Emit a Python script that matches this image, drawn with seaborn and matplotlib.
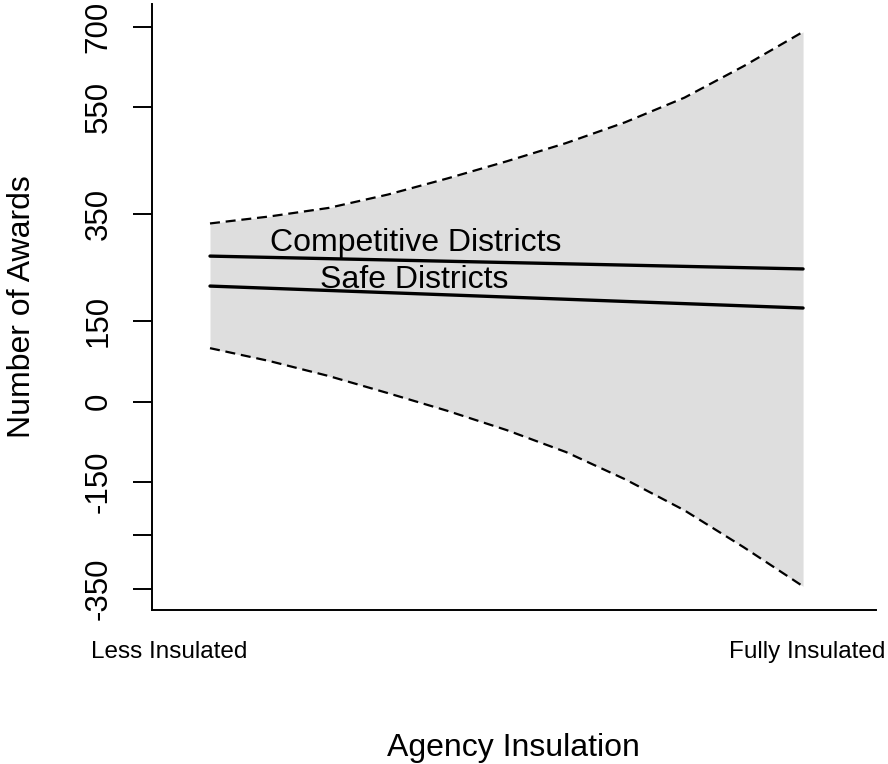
import matplotlib
matplotlib.use("Agg")
import matplotlib.pyplot as plt
import seaborn as sns
import pandas as pd

# ---- data ----
insulation = [0.0, 0.1, 0.2, 0.3, 0.4, 0.5, 0.6, 0.7, 0.8, 0.9, 1.0]
ci_upper = [333, 346, 362, 387, 417, 449, 483, 522, 568, 627, 691]
ci_lower = [100, 76, 48, 16, -17, -53, -94, -145, -203, -272, -345]

line_x = [0.0, 1.0]
competitive = [272, 248]
safe = [216, 175]

series_names = ["Competitive Districts", "Safe Districts"]
y_ticks = [700, 550, 350, 150, 0, -150, -250, -350]
y_tick_labels = ["700", "550", "350", "150", "0", "-150", "", "-350"]
x_tick_labels = ["Less Insulated", "Fully Insulated"]

# ---- style ----
sns.set_theme(style="white")
plt.rcParams["font.family"] = ["Liberation Sans", "DejaVu Sans"]
plt.rcParams["text.color"] = "black"
plt.rcParams["xtick.color"] = "black"
plt.rcParams["ytick.color"] = "black"
plt.rcParams["xtick.labelcolor"] = "black"
plt.rcParams["ytick.labelcolor"] = "black"

W, H = 888, 764
fig = plt.figure(figsize=(W / 100, H / 100), dpi=100)
ax = fig.add_axes([152 / W, 1 - 610 / H, (876 - 152) / W, (610 - 4) / H])

ax.fill_between(insulation, ci_lower, ci_upper, color="#dedede", linewidth=0, zorder=1)
sns.lineplot(x=insulation, y=ci_upper, ax=ax, color="black", linewidth=1.6,
             zorder=2).lines[-1].set_dashes((4.5, 2.6))
sns.lineplot(x=insulation, y=ci_lower, ax=ax, color="black", linewidth=1.6,
             zorder=2).lines[-1].set_dashes((4.5, 2.6))

df = pd.DataFrame({
    "x": line_x * 2,
    "y": competitive + safe,
    "series": [series_names[0]] * 2 + [series_names[1]] * 2,
})
sns.lineplot(data=df, x="x", y="y", units="series", estimator=None, ax=ax,
             color="black", linewidth=2.4, legend=False, zorder=3)

ax.text(0.346, 296, series_names[0], fontsize=23, ha="center", va="center", zorder=4)
ax.text(0.344, 227, series_names[1], fontsize=23, ha="center", va="center", zorder=4)

ax.set_xlim(-0.0978, 1.123)
ax.set_ylim(-389.2, 743)

ax.set_yticks(y_ticks)
ax.set_yticklabels(y_tick_labels, rotation=90, va="center", fontsize=22.5)
ax.tick_params(axis="y", length=13.7, width=1.4, pad=14, color="black", left=True)

ax.set_xticks([-0.069, 1.007])
ax.set_xticklabels(x_tick_labels, fontsize=17.5)
ax.tick_params(axis="x", length=0, pad=22)

for s in ["top", "right"]:
    ax.spines[s].set_visible(False)
for s in ["left", "bottom"]:
    ax.spines[s].set_color("black")
    ax.spines[s].set_linewidth(1.4)

ax.set_xlabel("")
ax.set_ylabel("")
fig.text(22 / W, 1 - 307 / H, "Number of Awards", rotation=90, fontsize=23,
         ha="center", va="center")
fig.text(513 / W, 1 - 748 / H, "Agency Insulation", fontsize=23,
         ha="center", va="center")

fig.savefig("out.png", dpi=100)
